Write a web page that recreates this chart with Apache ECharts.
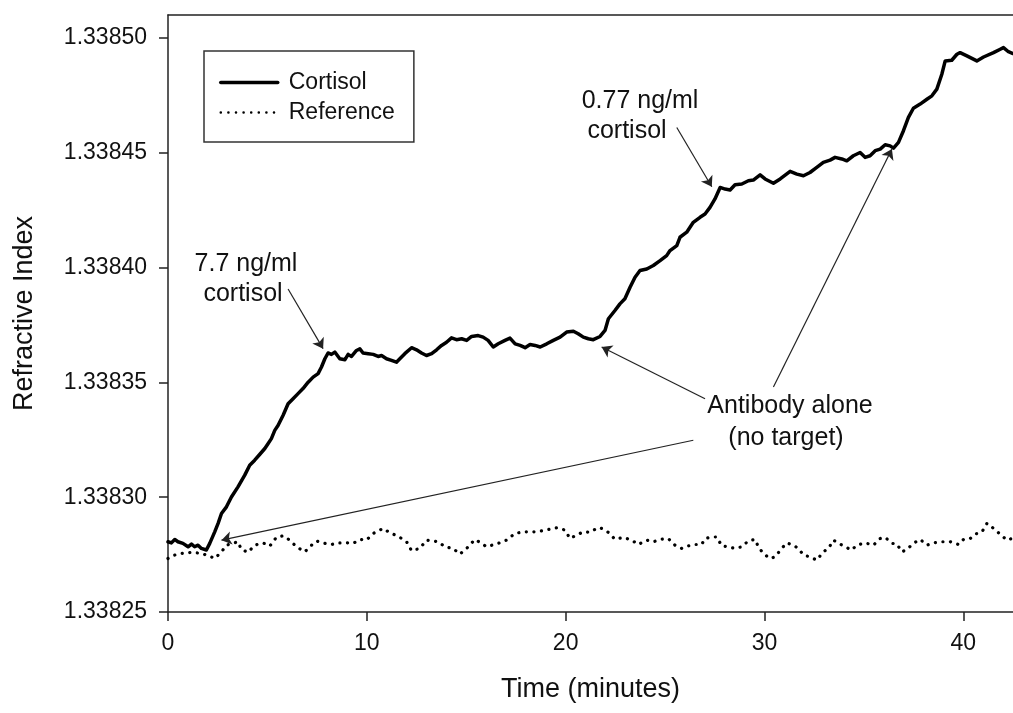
<!DOCTYPE html>
<html>
<head>
<meta charset="utf-8">
<title>Refractive index vs time</title>
<script src="https://cdn.jsdelivr.net/npm/echarts@6.0.0/dist/echarts.min.js"></script>
<style>
  html, body { margin: 0; padding: 0; background: #fff; }
  #chart { width: 1013px; height: 713px; }
</style>
</head>
<body>
<div id="chart"></div>
<script>
// time axis (minutes) and refractive index
const cortisolTime = [
  0, 0.17, 0.34, 0.50, 0.75, 1.01, 1.18, 1.34, 1.51, 1.68,
  1.93, 2.10, 2.35, 2.52, 2.69, 2.94, 3.19, 3.52, 3.86, 4.11,
  4.36, 4.62, 4.87, 5.03, 5.20, 5.37, 5.54, 5.79, 6.04, 6.29,
  6.54, 6.79, 7.05, 7.30, 7.55, 7.72, 7.89, 8.05, 8.22, 8.39,
  8.64, 8.90, 9.06, 9.23, 9.48, 9.65, 9.81, 10.07, 10.32, 10.57,
  10.74, 10.99, 11.24, 11.49, 11.66, 11.91, 12.25, 12.50, 12.75, 13.00,
  13.26, 13.51, 13.76, 14.01, 14.26, 14.51, 14.77, 15.02, 15.27, 15.60,
  15.85, 16.10, 16.36, 16.61, 16.95, 17.20, 17.46, 17.71, 17.96, 18.21,
  18.46, 18.72, 19.05, 19.38, 19.72, 20.05, 20.39, 20.63, 20.89, 21.14,
  21.39, 21.73, 21.98, 22.15, 22.48, 22.73, 22.98, 23.24, 23.49, 23.74,
  24.08, 24.41, 24.75, 25.08, 25.25, 25.59, 25.75, 26.09, 26.42, 26.76,
  27.01, 27.26, 27.51, 27.77, 28.02, 28.27, 28.52, 28.86, 29.19, 29.44,
  29.78, 30.03, 30.45, 30.79, 31.29, 31.63, 31.96, 32.29, 32.63, 32.96,
  33.30, 33.55, 33.89, 34.14, 34.47, 34.81, 35.06, 35.31, 35.57, 35.82,
  36.07, 36.32, 36.49, 36.74, 36.99, 37.24, 37.49, 37.83, 38.17, 38.42,
  38.67, 38.92, 39.09, 39.42, 39.68, 39.84, 40.18, 40.68, 41.02, 41.52,
  41.86, 42.02, 42.27, 42.50
];
const cortisolValue = [
  1.3382806, 1.3382801, 1.3382816, 1.3382806, 1.3382799, 1.3382784, 1.3382796, 1.3382784, 1.3382791, 1.3382777,
  1.3382770, 1.3382799, 1.3382849, 1.3382886, 1.3382929, 1.3382958, 1.3383001, 1.3383045, 1.3383096, 1.3383139,
  1.3383161, 1.3383187, 1.3383212, 1.3383233, 1.3383255, 1.3383291, 1.3383313, 1.3383357, 1.3383407, 1.3383429,
  1.3383451, 1.3383473, 1.3383501, 1.3383523, 1.3383538, 1.3383567, 1.3383603, 1.3383628, 1.3383622, 1.3383632,
  1.3383603, 1.3383599, 1.3383622, 1.3383613, 1.3383639, 1.3383646, 1.3383628, 1.3383625, 1.3383622, 1.3383613,
  1.3383617, 1.3383603, 1.3383596, 1.3383588, 1.3383603, 1.3383625, 1.3383651, 1.3383642, 1.3383628, 1.3383617,
  1.3383625, 1.3383642, 1.3383661, 1.3383675, 1.3383694, 1.3383686, 1.3383690, 1.3383683, 1.3383700, 1.3383704,
  1.3383697, 1.3383683, 1.3383654, 1.3383668, 1.3383683, 1.3383693, 1.3383668, 1.3383661, 1.3383651, 1.3383665,
  1.3383661, 1.3383654, 1.3383668, 1.3383683, 1.3383697, 1.3383719, 1.3383723, 1.3383712, 1.3383697, 1.3383690,
  1.3383686, 1.3383700, 1.3383726, 1.3383777, 1.3383813, 1.3383842, 1.3383864, 1.3383914, 1.3383958, 1.3383987,
  1.3383994, 1.3384009, 1.3384030, 1.3384052, 1.3384074, 1.3384096, 1.3384132, 1.3384154, 1.3384197, 1.3384219,
  1.3384233, 1.3384262, 1.3384299, 1.3384349, 1.3384342, 1.3384338, 1.3384361, 1.3384364, 1.3384378, 1.3384381,
  1.3384404, 1.3384386, 1.3384367, 1.3384386, 1.3384419, 1.3384407, 1.3384400, 1.3384414, 1.3384436, 1.3384458,
  1.3384468, 1.3384480, 1.3384473, 1.3384465, 1.3384487, 1.3384501, 1.3384480, 1.3384487, 1.3384509, 1.3384516,
  1.3384535, 1.3384530, 1.3384520, 1.3384545, 1.3384596, 1.3384654, 1.3384694, 1.3384712, 1.3384733, 1.3384748,
  1.3384777, 1.3384842, 1.3384900, 1.3384903, 1.3384929, 1.3384936, 1.3384922, 1.3384900, 1.3384917, 1.3384936,
  1.3384951, 1.3384958, 1.3384940, 1.3384932
];

const referenceTime = [
  0.0, 0.34, 0.67, 1.2, 1.68, 2.10, 2.35, 2.69, 2.94, 3.52, 3.69, 4.03, 4.36, 4.78, 5.12, 5.45, 5.79,
  6.12, 6.46, 6.88, 7.22, 7.47, 7.89, 8.22, 8.56, 8.98, 9.31, 9.65, 9.98, 10.32, 10.82, 11.16, 11.57,
  12.0, 12.25, 12.67, 13.0, 13.59, 13.93, 14.34, 14.68, 15.02, 15.44, 15.77, 16.02, 16.61, 17.03,
  17.45, 17.87, 18.54, 19.12, 19.55, 19.96, 20.22, 20.55, 20.89, 21.22, 21.64, 21.81, 22.14, 22.48,
  22.90, 23.32, 23.65, 24.08, 24.41, 24.83, 25.16, 25.50, 25.84, 26.17, 26.51, 26.84, 27.01, 27.26,
  27.60, 27.85, 28.18, 28.52, 28.86, 29.19, 29.53, 29.69, 29.94, 30.28, 30.53, 30.87, 31.12, 31.45,
  31.70, 31.96, 32.29, 32.63, 32.96, 33.22, 33.47, 33.80, 34.05, 34.39, 34.64, 35.06, 35.48, 35.82,
  36.07, 36.41, 36.66, 36.91, 37.16, 37.49, 37.83, 38.17, 38.50, 38.92, 39.34, 39.76, 40.01, 40.35,
  40.60, 40.94, 41.19, 41.52, 41.86, 42.19, 42.44
];
const referenceValue = [
  1.3382733, 1.3382748, 1.3382755, 1.3382760, 1.3382755, 1.3382743, 1.3382733, 1.3382762, 1.3382791,
  1.3382806, 1.3382772, 1.3382760, 1.3382791, 1.3382801, 1.3382787, 1.3382825, 1.3382832, 1.3382813,
  1.3382784, 1.3382762, 1.3382791, 1.3382809, 1.3382799, 1.3382794, 1.3382801, 1.3382801, 1.3382799,
  1.3382816, 1.3382813, 1.3382842, 1.3382864, 1.3382845, 1.3382830, 1.3382806, 1.3382767, 1.3382777,
  1.3382813, 1.3382806, 1.3382784, 1.3382777, 1.3382752, 1.3382777, 1.3382816, 1.3382799, 1.3382784,
  1.3382799, 1.3382813, 1.3382842, 1.3382849, 1.3382849, 1.3382859, 1.3382867, 1.3382857, 1.3382820,
  1.3382835, 1.3382849, 1.3382847, 1.3382868, 1.3382864, 1.3382847, 1.3382817, 1.3382825, 1.3382813,
  1.3382794, 1.3382813, 1.3382806, 1.3382817, 1.3382820, 1.3382791, 1.3382777, 1.3382788, 1.3382794,
  1.3382794, 1.3382820, 1.3382825, 1.3382827, 1.3382788, 1.3382784, 1.3382777, 1.3382784, 1.3382810,
  1.3382816, 1.3382784, 1.3382755, 1.3382733, 1.3382740, 1.3382777, 1.3382801, 1.3382791, 1.3382777,
  1.3382748, 1.3382740, 1.3382726, 1.3382762, 1.3382777, 1.3382813, 1.3382796, 1.3382784, 1.3382770,
  1.3382791, 1.3382801, 1.3382791, 1.3382820, 1.3382825, 1.3382799, 1.3382796, 1.3382762, 1.3382772,
  1.3382799, 1.3382816, 1.3382791, 1.3382801, 1.3382806, 1.3382806, 1.3382794, 1.3382816, 1.3382820,
  1.3382839, 1.3382849, 1.3382886, 1.3382864, 1.3382838, 1.3382813, 1.3382820
];

const xTicks = [0, 10, 20, 30, 40];
const yTicks = [1.33825, 1.3383, 1.33835, 1.3384, 1.33845, 1.3385];

// annotation arrows: [from, to] in data coordinates
const arrows = [
  [[6.04, 1.3383907], [7.80, 1.3383647]],
  [[25.59, 1.3384610], [27.35, 1.3384352]],
  [[27.01, 1.3383429], [21.81, 1.3383654]],
  [[30.45, 1.3383480], [36.41, 1.3384516]],
  [[26.42, 1.3383248], [2.69, 1.3382813]]
];

const FONT = '"Liberation Sans", Arial, Helvetica, sans-serif';
const INK = '#111';

const chart = echarts.init(document.getElementById('chart'), null, { renderer: 'canvas' });

function zip(xs, ys) {
  return xs.map((x, i) => [x, ys[i]]);
}

function note(text, x, y) {
  return {
    type: 'text',
    x: x,
    y: y,
    style: {
      text: text,
      fontSize: 25,
      fontFamily: FONT,
      fill: INK,
      align: 'center',
      verticalAlign: 'middle'
    },
    silent: true
  };
}

chart.setOption({
  animation: false,
  backgroundColor: '#fff',
  grid: { left: 168, right: 0, top: 15, bottom: 101, outerBoundsMode: 'none' },
  legend: {
    orient: 'vertical',
    left: 204,
    top: 51,
    padding: [20, 19, 18, 15],
    itemWidth: 57,
    itemHeight: 14,
    itemGap: 7,
    borderColor: '#333',
    borderWidth: 1.5,
    selectedMode: false,
    // hide the marker dot, keep only the line sample
    itemStyle: { opacity: 0 },
    textStyle: { fontSize: 23, color: INK, fontFamily: FONT, padding: [0, 0, 0, 6] },
    data: [
      { name: 'Cortisol', lineStyle: { width: 3.5 } },
      { name: 'Reference', lineStyle: { width: 2.5 } }
    ]
  },
  xAxis: [
    {
      type: 'value',
      min: 0,
      max: 42.5,
      name: 'Time (minutes)',
      nameLocation: 'middle',
      nameGap: 64,
      nameTextStyle: { fontSize: 27, color: INK, fontFamily: FONT },
      axisLine: { show: true, onZero: false, lineStyle: { color: '#222', width: 1.5 } },
      axisTick: { show: true, inside: false, length: 9, customValues: xTicks, lineStyle: { color: '#222', width: 1.5 } },
      axisLabel: { customValues: xTicks, margin: 20, fontSize: 23, color: INK, fontFamily: FONT },
      splitLine: { show: false }
    },
    {
      type: 'value',
      position: 'top',
      min: 0,
      max: 42.5,
      axisLine: { show: true, onZero: false, lineStyle: { color: '#222', width: 1.5 } },
      axisTick: { show: false },
      axisLabel: { show: false },
      splitLine: { show: false }
    }
  ],
  yAxis: {
    type: 'value',
    min: 1.33825,
    max: 1.33851,
    name: 'Refractive Index',
    nameLocation: 'middle',
    nameGap: 130,
    nameRotate: 90,
    nameTextStyle: { fontSize: 27, color: INK, fontFamily: FONT },
    axisLine: { show: true, onZero: false, lineStyle: { color: '#222', width: 1.5 } },
    axisTick: { show: true, inside: false, length: 9, customValues: yTicks, lineStyle: { color: '#222', width: 1.5 } },
    axisLabel: {
      customValues: yTicks,
      margin: 21,
      fontSize: 23,
      color: INK,
      fontFamily: FONT,
      formatter: (v) => v.toFixed(5)
    },
    splitLine: { show: false }
  },
  series: [
    {
      name: 'Cortisol',
      type: 'line',
      data: zip(cortisolTime, cortisolValue),
      symbol: 'none',
      smooth: false,
      lineStyle: { color: '#000', width: 3.5, cap: 'round', join: 'round' },
      itemStyle: { color: '#000' },
      markLine: {
        silent: true,
        symbol: ['none', 'arrow'],
        symbolSize: 10,
        label: { show: false },
        lineStyle: { color: '#222', width: 1.2, type: 'solid' },
        emphasis: { disabled: true },
        data: arrows.map(([a, b]) => [{ coord: a }, { coord: b }])
      }
    },
    {
      name: 'Reference',
      type: 'line',
      data: zip(referenceTime, referenceValue),
      symbol: 'none',
      lineStyle: { color: '#000', width: 3.2, type: [0.1, 7.5], cap: 'round' },
      itemStyle: { color: '#000' }
    }
  ],
  graphic: [
    note('7.7 ng/ml', 246, 264),
    note('cortisol', 243, 294),
    note('0.77 ng/ml', 640, 101),
    note('cortisol', 627, 131),
    note('Antibody alone', 790, 406),
    note('(no target)', 786, 438)
  ]
});
</script>
</body>
</html>
